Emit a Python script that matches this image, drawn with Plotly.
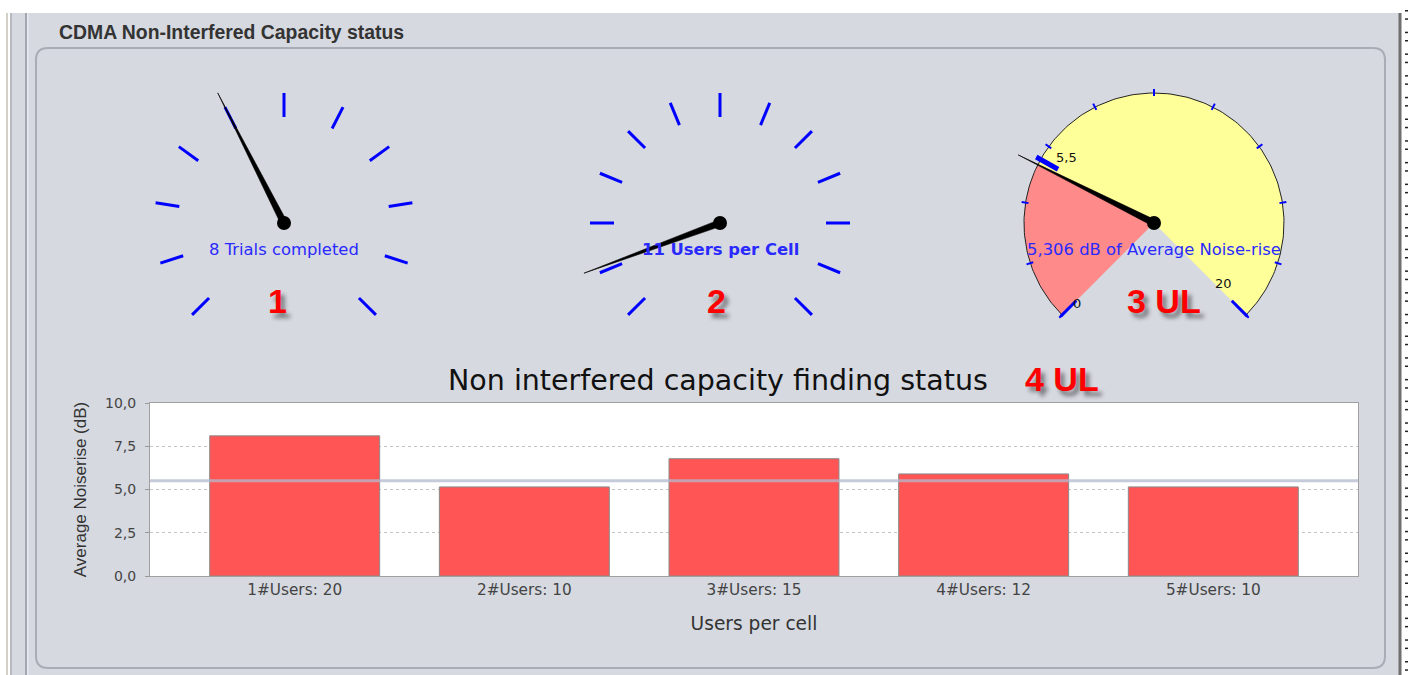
import numpy as np
import plotly.graph_objects as go

W, H = 1411, 675

# ---------------- data ----------------
panel_title = "CDMA Non-Interfered Capacity status"

g1_min, g1_max, g1_step, g1_value = 0, 20, 2, 8
g1_text = "8 Trials completed"
g2_min, g2_max, g2_step, g2_value = 0, 120, 10, 11
g2_text = "11 Users per Cell"
g3_min, g3_max, g3_step, g3_value, g3_threshold = 0, 20, 2, 5.306, 5.5
g3_text = "5,306 dB of Average Noise-rise"
g3_marks = [0, 5.5, 20]
g3_mark_labels = ["0", "5,5", "20"]
gauge_badges = ["1", "2", "3 UL"]

bar_categories = ["1#Users: 20", "2#Users: 10", "3#Users: 15", "4#Users: 12", "5#Users: 10"]
bar_values = [8.1, 5.15, 6.78, 5.9, 5.15]
noise_threshold = 5.5
y_ticks = [0, 2.5, 5, 7.5, 10]
y_tick_labels = ["0,0", "2,5", "5,0", "7,5", "10,0"]
chart_title = "Non interfered capacity finding status"
chart_badge = "4 UL"
x_title = "Users per cell"
y_title = "Average Noiserise (dB)"

# ---------------- helpers ----------------
PANEL = "#d6d9e0"
BLUE = "#0000ff"
VO = 8.0          # vertical offset of the drawing surface in the page
VH = 659.0        # effective drawn height


def px(x):
    return x / W


def py(y):
    return 1 - (y - VO) / VH


def ang(v, vmin, vmax):
    return np.deg2rad(225 - (v - vmin) / (vmax - vmin) * 270)


def tick_lines(values, vmin, vmax, r0, r1):
    xs, ys = [], []
    for v in values:
        a = ang(v, vmin, vmax)
        xs += [r0 * np.cos(a), r1 * np.cos(a), None]
        ys += [r0 * np.sin(a), r1 * np.sin(a), None]
    return xs, ys


def needle(v, vmin, vmax, L, w):
    a = ang(v, vmin, vmax)
    tx, ty = L * np.cos(a), L * np.sin(a)
    nx, ny = -np.sin(a) * w, np.cos(a) * w
    return [nx, tx, -nx, nx], [ny, ty, -ny, ny]


def sector(v0, v1, vmin, vmax, r):
    t = np.linspace(ang(v0, vmin, vmax), ang(v1, vmin, vmax), 80)
    return [0] + list(r * np.cos(t)) + [0], [0] + list(r * np.sin(t)) + [0]


fig = go.Figure()

# ---------------- gauges ----------------
centers = [284, 720, 1154]
CY = 223
S = 150
gauges = [
    dict(vmin=g1_min, vmax=g1_max, step=g1_step, value=g1_value, text=g1_text, bold=False, L=146),
    dict(vmin=g2_min, vmax=g2_max, step=g2_step, value=g2_value, text=g2_text, bold=True, L=145),
    dict(vmin=g3_min, vmax=g3_max, step=g3_step, value=g3_value, text=g3_text, bold=False, L=152),
]

annotations = []
for i, (cx, g) in enumerate(zip(centers, gauges)):
    k = i + 2
    xa, ya = f"x{k}", f"y{k}"
    fig.update_layout(**{
        f"xaxis{k}": dict(domain=[px(cx - S), px(cx + S)], range=[-S, S], visible=False, fixedrange=True),
        f"yaxis{k}": dict(domain=[py(CY + S), py(CY - S)], range=[-S, S], visible=False, fixedrange=True),
    })
    vmin, vmax, step, val = g["vmin"], g["vmax"], g["step"], g["value"]
    tvals = np.arange(vmin, vmax + step / 2, step)
    if i < 2:
        tx, ty = tick_lines(tvals, vmin, vmax, 106, 130)
        fig.add_trace(go.Scatter(x=tx, y=ty, mode="lines", line=dict(color=BLUE, width=3),
                                 xaxis=xa, yaxis=ya, hoverinfo="skip"))
    else:
        sx, sy = sector(vmin, val, vmin, vmax, 130)
        fig.add_trace(go.Scatter(x=sx, y=sy, mode="lines", fill="toself", fillcolor="#ff8a8a",
                                 line=dict(width=0, color="#ff8a8a"), xaxis=xa, yaxis=ya, hoverinfo="skip"))
        sx, sy = sector(val, vmax, vmin, vmax, 130)
        fig.add_trace(go.Scatter(x=sx, y=sy, mode="lines", fill="toself", fillcolor="#ffff99",
                                 line=dict(width=0, color="#ffff99"), xaxis=xa, yaxis=ya, hoverinfo="skip"))
        t = np.linspace(ang(vmin, vmin, vmax), ang(vmax, vmin, vmax), 200)
        fig.add_trace(go.Scatter(x=130 * np.cos(t), y=130 * np.sin(t), mode="lines",
                                 line=dict(color="#222222", width=1), xaxis=xa, yaxis=ya, hoverinfo="skip"))
        tx, ty = tick_lines(tvals, vmin, vmax, 127, 134)
        fig.add_trace(go.Scatter(x=tx, y=ty, mode="lines", line=dict(color=BLUE, width=2),
                                 xaxis=xa, yaxis=ya, hoverinfo="skip"))
        tx, ty = tick_lines([vmin, vmax], vmin, vmax, 110, 132)
        fig.add_trace(go.Scatter(x=tx, y=ty, mode="lines", line=dict(color=BLUE, width=3),
                                 xaxis=xa, yaxis=ya, hoverinfo="skip"))
        tx, ty = tick_lines([g3_threshold], vmin, vmax, 110, 135)
        fig.add_trace(go.Scatter(x=tx, y=ty, mode="lines", line=dict(color=BLUE, width=5),
                                 xaxis=xa, yaxis=ya, hoverinfo="skip"))
        shifts = [(1, -3), (8, 12), (-8, 17)]
        for m, lab, (dx, dy) in zip(g3_marks, g3_mark_labels, shifts):
            a = ang(m, vmin, vmax)
            annotations.append(dict(x=110 * np.cos(a), y=110 * np.sin(a), xref=xa, yref=ya,
                                    text=lab, showarrow=False, xshift=dx, yshift=dy,
                                    xanchor="center", yanchor="middle",
                                    font=dict(family="DejaVu Sans", size=13, color="#111111")))
    nx_, ny_ = needle(val, vmin, vmax, g["L"], 3.3)
    fig.add_trace(go.Scatter(x=nx_, y=ny_, mode="lines", fill="toself", fillcolor="black",
                             line=dict(color="black", width=0.6), xaxis=xa, yaxis=ya, hoverinfo="skip"))
    fig.add_trace(go.Scatter(x=[0], y=[0], mode="markers", marker=dict(color="black", size=14),
                             xaxis=xa, yaxis=ya, hoverinfo="skip"))
    annotations.append(dict(x=0, y=-26, xref=xa, yref=ya, text=(f"<b>{g['text']}</b>" if g["bold"] else g["text"]),
                            showarrow=False, xanchor="center", yanchor="middle",
                            font=dict(family="DejaVu Sans", size=16.4, color="#2a2aff")))

badge_font = dict(family="Liberation Sans", size=34, color="#ff0000", weight="bold",
                  shadow="4px 5px 4px rgba(0,0,0,0.45)")
for (bx, by), b in zip([(277, 301), (716, 301), (1164, 301)], gauge_badges):
    annotations.append(dict(x=px(bx), y=py(by), xref="paper", yref="paper", text=b, showarrow=False,
                            xanchor="center", yanchor="middle", font=badge_font))
annotations.append(dict(x=px(1062), y=py(379), xref="paper", yref="paper", text=chart_badge,
                        showarrow=False, xanchor="center", yanchor="middle", font=badge_font))

# ---------------- bar chart ----------------
fig.add_trace(go.Bar(x=bar_categories, y=bar_values, width=0.74, marker=dict(color="#ff5555",
                     line=dict(color="#8a8a8a", width=1)), hoverinfo="skip"))

annotations.append(dict(x=px(718), y=py(380), xref="paper", yref="paper", text=chart_title,
                        showarrow=False, xanchor="center", yanchor="middle",
                        font=dict(family="DejaVu Sans", size=28.5, color="#111111")))
annotations.append(dict(x=px(57), y=py(32), xref="paper", yref="paper", text=f"<b>{panel_title}</b>",
                        xanchor="left", yanchor="middle", showarrow=False,
                        font=dict(family="Liberation Sans", size=19.4, color="#333333")))

fig.update_layout(
    xaxis=dict(domain=[px(150), px(1358)], range=[-0.63, 4.63], showgrid=False, showline=True,
               linecolor="#a0a0a0", mirror=True, ticks="", fixedrange=True,
               tickfont=dict(family="DejaVu Sans", size=15.3, color="#444444"),
               title=dict(text=x_title, standoff=18, font=dict(family="DejaVu Sans", size=18.6, color="#333333"))),
    yaxis=dict(domain=[py(576), py(403)], range=[0, 10], tickvals=y_ticks, ticktext=y_tick_labels,
               showgrid=True, gridcolor="#c4c4c4", griddash="dot", showline=True, linecolor="#a0a0a0",
               mirror=True, ticks="outside", ticklen=4, tickcolor="#999999", fixedrange=True, zeroline=False,
               ticklabelstandoff=6,
               tickfont=dict(family="DejaVu Sans", size=14, color="#444444"),
               title=dict(text=y_title, standoff=14, font=dict(family="Liberation Sans", size=17, color="#333333"))),
)

# ---------------- frame shapes ----------------
shapes = [
    dict(type="rect", xref="paper", yref="paper", x0=px(12), x1=px(1399), y0=py(680), y1=py(13),
         fillcolor=PANEL, line=dict(width=0), layer="below"),
    dict(type="rect", xref="paper", yref="paper", x0=px(6), x1=px(8), y0=py(680), y1=py(13),
         fillcolor="#d4d0c8", line=dict(width=0), layer="below"),
    dict(type="line", xref="paper", yref="paper", x0=px(11), x1=px(11), y0=py(680), y1=py(13),
         line=dict(color="#9ea2aa", width=1.5), layer="below"),
    dict(type="line", xref="paper", yref="paper", x0=px(26), x1=px(26), y0=py(680), y1=py(13),
         line=dict(color="#a2a6ae", width=2), layer="below"),
    dict(type="line", xref="paper", yref="paper", x0=px(27.8), x1=px(27.8), y0=py(680), y1=py(13),
         line=dict(color="#eef0f4", width=1), layer="below"),
    dict(type="line", xref="paper", yref="paper", x0=px(1400), x1=px(1400), y0=py(680), y1=py(13),
         line=dict(color="#6f6f6f", width=3), layer="below"),
]
# rounded inner panel
x0, x1, y0, y1, r = 36, 1385, 48, 668, 12
path = (f"M {px(x0 + r)},{py(y0)} L {px(x1 - r)},{py(y0)} Q {px(x1)},{py(y0)} {px(x1)},{py(y0 + r)} "
        f"L {px(x1)},{py(y1 - r)} Q {px(x1)},{py(y1)} {px(x1 - r)},{py(y1)} "
        f"L {px(x0 + r)},{py(y1)} Q {px(x0)},{py(y1)} {px(x0)},{py(y1 - r)} "
        f"L {px(x0)},{py(y0 + r)} Q {px(x0)},{py(y0)} {px(x0 + r)},{py(y0)} Z")
shapes.append(dict(type="path", xref="paper", yref="paper", path=path, fillcolor=PANEL,
                   line=dict(color="#a8acb4", width=2), layer="below"))
# white plot area of the bar chart (drawn in the subplot's own layer, under the grid)
shapes.append(dict(type="rect", xref="x domain", yref="y domain", x0=0, x1=1, y0=0, y1=1,
                   fillcolor="white", line=dict(width=0), layer="below"))
# dotted edge marks on the right
yy = 10.0
while yy < 675:
    for off in (0, 8.3):
        shapes.append(dict(type="rect", xref="paper", yref="paper", x0=px(1405), x1=px(1408),
                           y0=py(yy + off + 1.5), y1=py(yy + off), fillcolor="#222222",
                           line=dict(width=0), layer="below"))
    yy += 21.7
# threshold line on bar chart
shapes.append(dict(type="line", xref="x domain", yref="y", x0=0, x1=1, y0=noise_threshold, y1=noise_threshold,
                   line=dict(color="rgba(178,186,206,0.75)", width=3), layer="above"))

fig.update_layout(
    width=W, height=H, autosize=False, margin=dict(l=0, r=0, t=0, b=0),
    paper_bgcolor="white", plot_bgcolor="white", showlegend=False,
    shapes=shapes, annotations=annotations,
)

post = ("document.body.style.margin='0';document.body.style.overflow='hidden';"
        "document.documentElement.style.background="
        "'linear-gradient(to bottom, #ffffff 0px, #ffffff 337px, #d6d9e0 337px, #d6d9e0 100%) fixed';")
fig.write_html("out.html", config={"displayModeBar": False}, post_script=post)
